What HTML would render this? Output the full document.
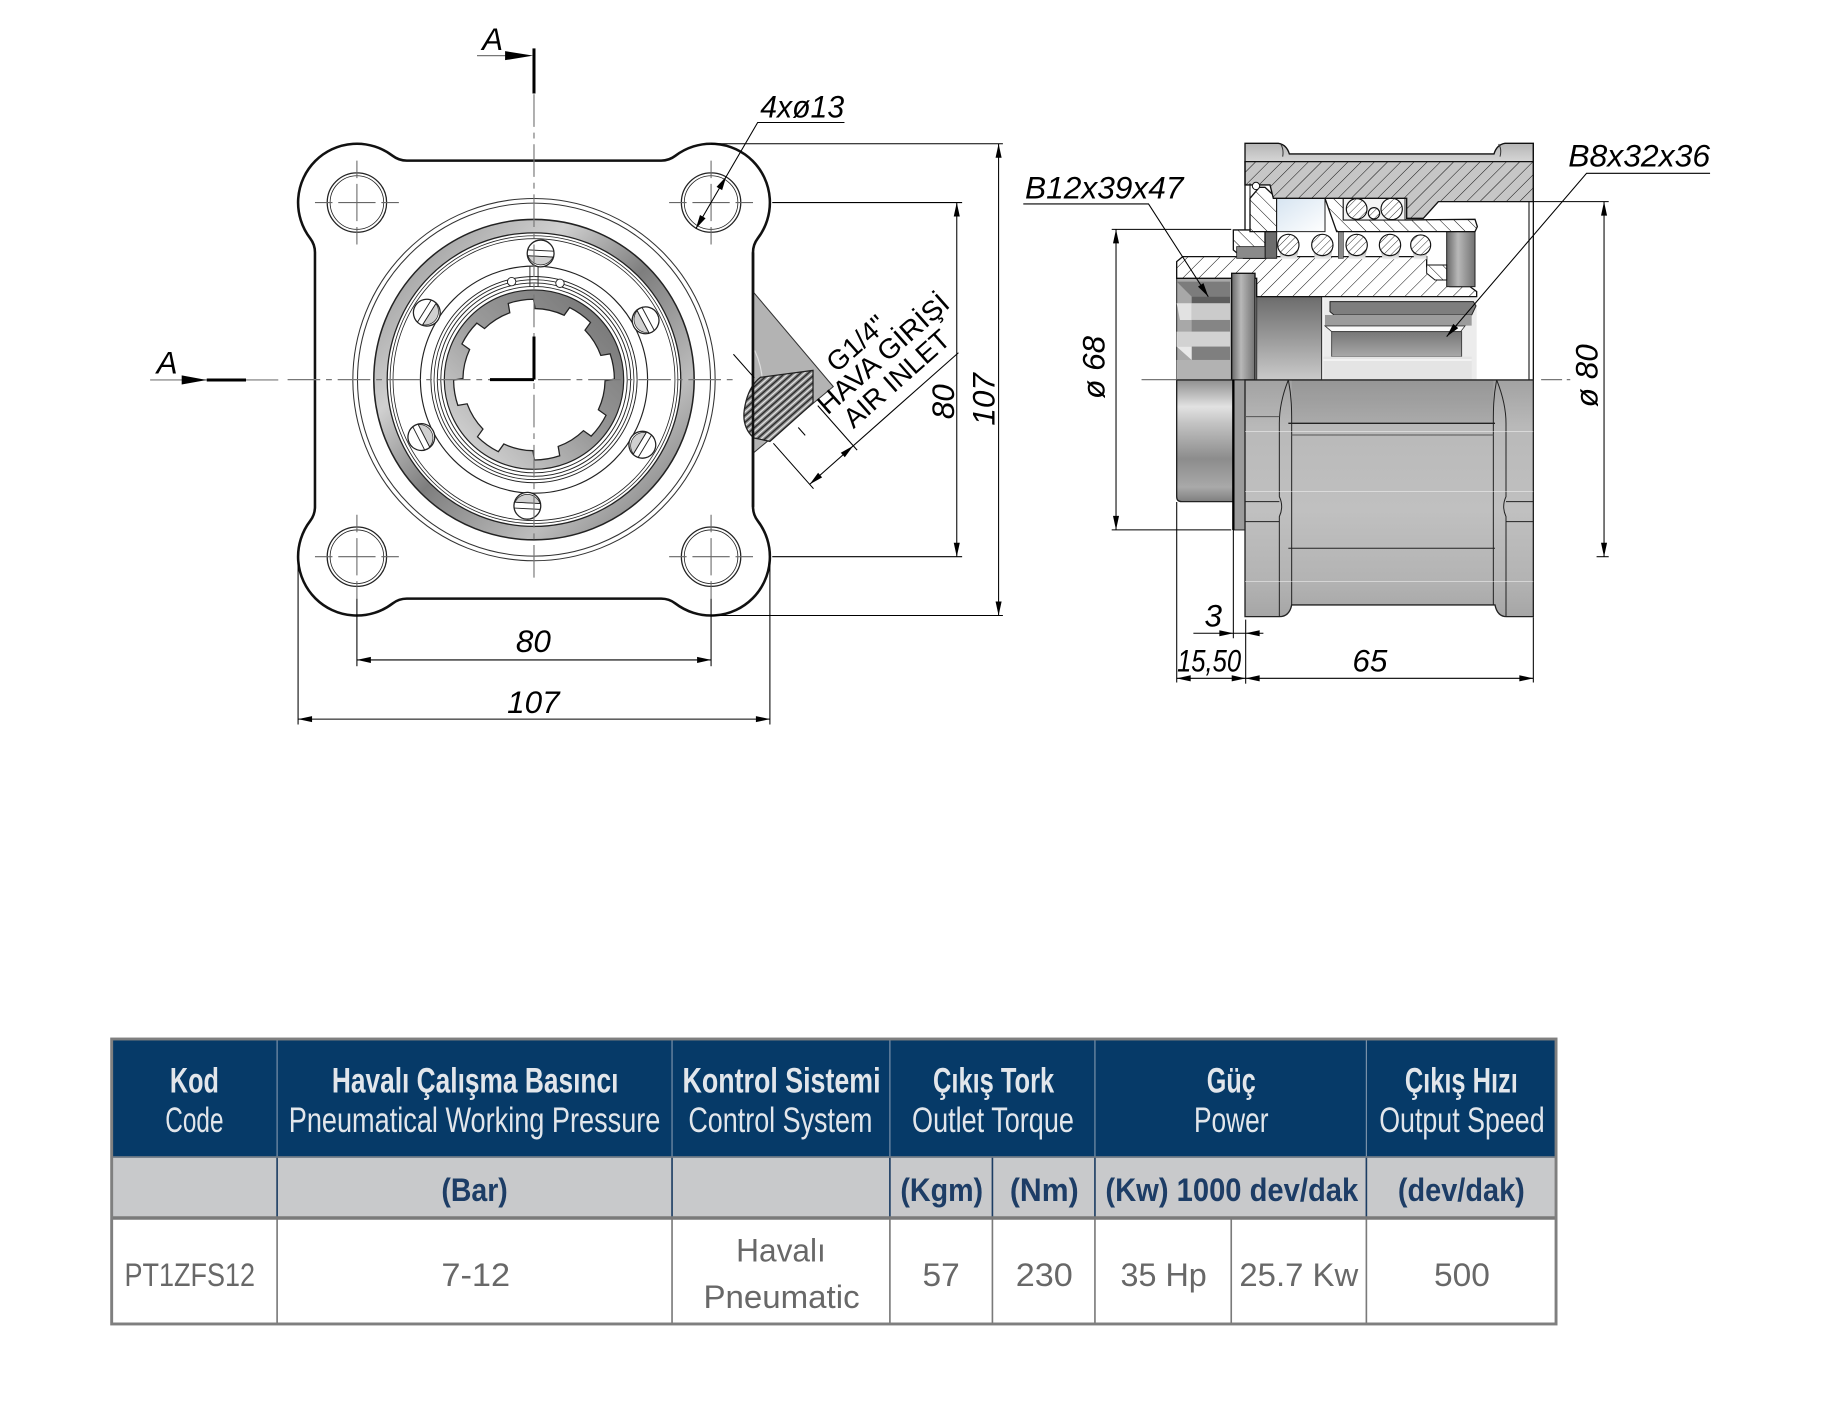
<!DOCTYPE html>
<html><head><meta charset="utf-8"><style>
html,body{margin:0;padding:0;background:#fff;}
svg{display:block;}
text{font-family:"Liberation Sans","DejaVu Sans",sans-serif;}
.d{font-style:italic;font-size:27px;fill:#000;}
.hd{font-weight:bold;font-size:30px;fill:#e2e6eb;}
.hr{font-size:30px;fill:#e2e6eb;}
.gr{font-weight:bold;font-size:28px;fill:#1d3d66;}
.dt{font-size:28px;fill:#686868;}
</style></head><body>
<svg width="1828" height="1403" viewBox="-0.86 -0.86 1569.1 1204.3" preserveAspectRatio="none" xmlns="http://www.w3.org/2000/svg">
<defs>
<pattern id="hs" width="28" height="28" patternUnits="userSpaceOnUse" patternTransform="rotate(45)"><rect width="28" height="28" fill="#c6c6c6"/><line x1="0" y1="0" x2="0" y2="28" stroke="#111" stroke-width="3"/></pattern>
<pattern id="hw" width="34" height="34" patternUnits="userSpaceOnUse" patternTransform="rotate(45)"><rect width="34" height="34" fill="#fff"/><line x1="0" y1="0" x2="0" y2="34" stroke="#111" stroke-width="3"/></pattern>
<pattern id="hb" width="30" height="30" patternUnits="userSpaceOnUse" patternTransform="rotate(-45)"><rect width="30" height="30" fill="#fff"/><line x1="0" y1="0" x2="0" y2="30" stroke="#111" stroke-width="3"/></pattern>
<pattern id="hf" width="16" height="16" patternUnits="userSpaceOnUse" patternTransform="rotate(45)"><rect width="16" height="16" fill="#fff"/><line x1="0" y1="0" x2="0" y2="16" stroke="#111" stroke-width="2.5"/></pattern>
<pattern id="kn" width="4.4" height="4.4" patternUnits="userSpaceOnUse" patternTransform="rotate(-41.5)"><rect width="4.4" height="4.4" fill="#8e8e8e"/><line x1="0" y1="1" x2="4.4" y2="1" stroke="#f0f0f0" stroke-width="0.9"/><line x1="0" y1="3.2" x2="4.4" y2="3.2" stroke="#222" stroke-width="1.1"/></pattern>
<linearGradient id="gRing" x1="0" y1="0" x2="1" y2="1"><stop offset="0" stop-color="#8e8e8e"/><stop offset=".3" stop-color="#d0d0d0"/><stop offset=".5" stop-color="#7e7e7e"/><stop offset=".75" stop-color="#bcbcbc"/><stop offset="1" stop-color="#707070"/></linearGradient>
<linearGradient id="gHubF" x1="1" y1="0" x2="0" y2="1"><stop offset="0" stop-color="#6f6f6f"/><stop offset=".5" stop-color="#9a9a9a"/><stop offset="1" stop-color="#e2e2e2"/></linearGradient>
<linearGradient id="gHub" x1="0" y1="0" x2="0" y2="1"><stop offset="0" stop-color="#8f8f8f"/><stop offset=".22" stop-color="#e2e2e2"/><stop offset=".35" stop-color="#c4c4c4"/><stop offset=".65" stop-color="#8c8c8c"/><stop offset=".88" stop-color="#a9a9a9"/><stop offset="1" stop-color="#7f7f7f"/></linearGradient>
<linearGradient id="gBody" x1="0" y1="0" x2="0" y2="1"><stop offset="0" stop-color="#a2a2a2"/><stop offset=".2" stop-color="#b9b9b9"/><stop offset=".55" stop-color="#c0c0c0"/><stop offset=".85" stop-color="#b3b3b3"/><stop offset="1" stop-color="#a6a6a6"/></linearGradient>
<linearGradient id="gPlate" x1="0" y1="0" x2="1" y2="0"><stop offset="0" stop-color="#686868"/><stop offset=".4" stop-color="#b8b8b8"/><stop offset="1" stop-color="#727272"/></linearGradient>
<linearGradient id="gBlock" x1="0" y1="0" x2="0" y2="1"><stop offset="0" stop-color="#6c6c6c"/><stop offset=".5" stop-color="#9a9a9a"/><stop offset="1" stop-color="#cacaca"/></linearGradient>
<linearGradient id="gBar" x1="0" y1="0" x2="0" y2="1"><stop offset="0" stop-color="#777"/><stop offset="1" stop-color="#a8a8a8"/></linearGradient>
<linearGradient id="gTail" x1="0" y1="0" x2="0" y2="1"><stop offset="0" stop-color="#8e8e8e"/><stop offset="1" stop-color="#f2f2f2"/></linearGradient>
<linearGradient id="gCav" x1="0" y1="0" x2="1" y2="1"><stop offset="0" stop-color="#d6e4f1"/><stop offset="1" stop-color="#ffffff"/></linearGradient>
<linearGradient id="gTop" x1="0" y1="0" x2="0" y2="1"><stop offset="0" stop-color="#b5b5b5"/><stop offset="1" stop-color="#d6d6d6"/></linearGradient>
</defs>

<!-- ================= FRONT VIEW ================= -->
<path d="M348.33,137 L566.67,137 A20,20 0 0 0 578.82,132.89 A50.5,50.5 0 0 1 649.61,203.68 A20,20 0 0 0 645.5,215.83 L645.5,434.17 A20,20 0 0 0 649.61,446.32 A50.5,50.5 0 0 1 578.82,517.11 A20,20 0 0 0 566.67,513 L348.33,513 A20,20 0 0 0 336.18,517.11 A50.5,50.5 0 0 1 265.39,446.32 A20,20 0 0 0 269.5,434.17 L269.5,215.83 A20,20 0 0 0 265.39,203.68 A50.5,50.5 0 0 1 336.18,132.89 A20,20 0 0 0 348.33,137 Z" fill="#fff" stroke="#111" stroke-width="2.2"/>

<!-- wedge + fitting -->
<polygon points="645.5,249.5 714.4,331 645.5,388.2" fill="#b3b3b3" stroke="#333" stroke-width="0.9"/>
<path d="M647,300 Q657,322 652,345" fill="none" stroke="#dedede" stroke-width="1"/>
<path d="M652,323 L697,317 L697,345 L660,378 L646,375 Q636,366 638,351 Q641,331 652,323 Z" fill="url(#kn)" stroke="#222" stroke-width="1.1"/>
<line x1="645.5" y1="215.8" x2="645.5" y2="434.2" stroke="#111" stroke-width="2.2"/>

<!-- concentric circles -->
<g fill="none" stroke="#333">
<circle cx="457.5" cy="325" r="155.5" stroke-width="0.9"/>
<circle cx="457.5" cy="325" r="151.5" stroke-width="0.9"/>
</g>
<circle cx="457.5" cy="325" r="131.8" fill="none" stroke="url(#gRing)" stroke-width="11.5"/>
<g fill="none" stroke="#222">
<circle cx="457.5" cy="325" r="137.5" stroke-width="1.3"/>
<circle cx="457.5" cy="325" r="126" stroke-width="1.1"/>
<circle cx="457.5" cy="325" r="123.5" stroke-width="0.7"/>
<circle cx="457.5" cy="325" r="121" stroke-width="0.7"/>
<circle cx="457.5" cy="325" r="97.5" stroke-width="1"/>
<circle cx="457.5" cy="325" r="88.5" stroke-width="0.8"/>
<circle cx="457.5" cy="325" r="85.8" stroke-width="0.7"/>
<circle cx="457.5" cy="325" r="83" stroke-width="0.8"/>
<circle cx="457.5" cy="325" r="80" stroke-width="0.8"/>
</g>
<circle cx="457.5" cy="325" r="77" fill="url(#gHubF)" stroke="#222" stroke-width="1"/>
<path transform="rotate(10 457.5 325)" d="M516.39,340.90 L523.72,344.40 A69,69 0 0 1 514.25,364.25 L506.92,360.76 A61,61 0 0 1 487.90,377.89 L490.61,385.54 A69,69 0 0 1 469.87,392.88 L467.16,385.23 A61,61 0 0 1 441.60,383.89 L438.10,391.22 A69,69 0 0 1 418.25,381.75 L421.74,374.42 A61,61 0 0 1 404.61,355.40 L396.96,358.11 A69,69 0 0 1 389.62,337.37 L397.27,334.66 A61,61 0 0 1 398.61,309.10 L391.28,305.60 A69,69 0 0 1 400.75,285.75 L408.08,289.24 A61,61 0 0 1 427.10,272.11 L424.39,264.46 A69,69 0 0 1 445.13,257.12 L447.84,264.77 A61,61 0 0 1 473.40,266.11 L476.90,258.78 A69,69 0 0 1 496.75,268.25 L493.26,275.58 A61,61 0 0 1 510.39,294.60 L518.04,291.89 A69,69 0 0 1 525.38,312.63 L517.73,315.34 A61,61 0 0 1 516.39,340.90 Z" fill="#fff" stroke="#222" stroke-width="1.1"/>
<!-- plate details -->
<circle cx="438.3" cy="240.9" r="3.6" fill="#fff" stroke="#222" stroke-width="0.8"/>
<circle cx="479.8" cy="242.3" r="3.6" fill="#fff" stroke="#222" stroke-width="0.8"/>
<path d="M454,228 V245 M461,228 V245" stroke="#222" stroke-width="0.8"/>

<!-- screws -->
<g stroke="#222">
<g transform="translate(463.2,216.7) rotate(3)"><circle r="11.5" fill="#fff" stroke-width="1.1"/><path d="M-10.7,2.5 H10.7 A11.5,11.5 0 0 1 -10.7,2.5Z" fill="#d0d0d0" stroke-width="0.6"/><path d="M-11,-2.5 H11 M-11,2.5 H11" stroke-width="0.8"/></g>
<g transform="translate(451.8,433.3) rotate(183)"><circle r="11.5" fill="#fff" stroke-width="1.1"/><path d="M-10.7,2.5 H10.7 A11.5,11.5 0 0 1 -10.7,2.5Z" fill="#d0d0d0" stroke-width="0.6"/><path d="M-11,-2.5 H11 M-11,2.5 H11" stroke-width="0.8"/></g>
<g transform="translate(365.5,267.5) rotate(-58)"><circle r="11.5" fill="#fff" stroke-width="1.1"/><path d="M-10.7,2.5 H10.7 A11.5,11.5 0 0 1 -10.7,2.5Z" fill="#d0d0d0" stroke-width="0.6"/><path d="M-11,-2.5 H11 M-11,2.5 H11" stroke-width="0.8"/></g>
<g transform="translate(553.3,274.1) rotate(62)"><circle r="11.5" fill="#fff" stroke-width="1.1"/><path d="M-10.7,2.5 H10.7 A11.5,11.5 0 0 1 -10.7,2.5Z" fill="#d0d0d0" stroke-width="0.6"/><path d="M-11,-2.5 H11 M-11,2.5 H11" stroke-width="0.8"/></g>
<g transform="translate(360.8,374.3) rotate(243)"><circle r="11.5" fill="#fff" stroke-width="1.1"/><path d="M-10.7,2.5 H10.7 A11.5,11.5 0 0 1 -10.7,2.5Z" fill="#d0d0d0" stroke-width="0.6"/><path d="M-11,-2.5 H11 M-11,2.5 H11" stroke-width="0.8"/></g>
<g transform="translate(550.5,380.9) rotate(121)"><circle r="11.5" fill="#fff" stroke-width="1.1"/><path d="M-10.7,2.5 H10.7 A11.5,11.5 0 0 1 -10.7,2.5Z" fill="#d0d0d0" stroke-width="0.6"/><path d="M-11,-2.5 H11 M-11,2.5 H11" stroke-width="0.8"/></g>
</g>

<!-- bolt holes -->
<g fill="none" stroke="#222">
<circle cx="305.5" cy="173" r="25.5" stroke-width="1.1"/><circle cx="305.5" cy="173" r="23" stroke-width="0.7"/>
<circle cx="609.5" cy="173" r="25.5" stroke-width="1.1"/><circle cx="609.5" cy="173" r="23" stroke-width="0.7"/>
<circle cx="305.5" cy="477" r="25.5" stroke-width="1.1"/><circle cx="305.5" cy="477" r="23" stroke-width="0.7"/>
<circle cx="609.5" cy="477" r="25.5" stroke-width="1.1"/><circle cx="609.5" cy="477" r="23" stroke-width="0.7"/>
</g>
<g stroke="#666" stroke-width="0.9" stroke-dasharray="15 5 32 5 15">
<line x1="269.5" y1="173" x2="341.5" y2="173"/><line x1="305.5" y1="137" x2="305.5" y2="209"/>
<line x1="573.5" y1="173" x2="645.5" y2="173"/><line x1="609.5" y1="137" x2="609.5" y2="209"/>
<line x1="269.5" y1="477" x2="341.5" y2="477"/><line x1="305.5" y1="441" x2="305.5" y2="513"/>
<line x1="573.5" y1="477" x2="645.5" y2="477"/><line x1="609.5" y1="441" x2="609.5" y2="513"/>
</g>

<!-- centerlines & section marks -->
<g stroke="#777" stroke-width="1" fill="none">
<line x1="128" y1="325.3" x2="238" y2="325.3"/>
<line x1="246" y1="325" x2="628" y2="325" stroke-dasharray="28 5 5 5"/>
<line x1="457.5" y1="80" x2="457.5" y2="500" stroke-dasharray="28 5 5 5"/>
<line x1="408.6" y1="46.9" x2="433" y2="46.9"/>
</g>
<g stroke="#000" stroke-width="2.6">
<line x1="457.5" y1="40.7" x2="457.5" y2="79.4"/>
<line x1="176.6" y1="325.3" x2="210.3" y2="325.3"/>
<line x1="457.5" y1="288" x2="457.5" y2="325"/>
<line x1="419.7" y1="325" x2="457.5" y2="325"/>
</g>
<polygon points="432.7,43 456.8,46.9 432.7,50.8" fill="#000"/>
<polygon points="155.1,321.4 176.6,325.3 155.1,329.2" fill="#000"/>
<text class="d" x="413" y="42" font-size="26">A</text>
<text class="d" x="133.6" y="319.6" font-size="26">A</text>

<!-- front dims -->
<g stroke="#000" stroke-width="0.9" fill="none">
<line x1="305.5" y1="513" x2="305.5" y2="571"/><line x1="609.5" y1="513" x2="609.5" y2="571"/>
<line x1="305.5" y1="565.6" x2="609.5" y2="565.6"/>
<line x1="255" y1="482" x2="255" y2="621"/><line x1="660" y1="482" x2="660" y2="621"/>
<line x1="255" y1="616.4" x2="660" y2="616.4"/>
<line x1="662" y1="173" x2="825" y2="173"/><line x1="662" y1="477" x2="825" y2="477"/>
<line x1="820.4" y1="173" x2="820.4" y2="477"/>
<line x1="609.5" y1="122.5" x2="860" y2="122.5"/><line x1="609.5" y1="527.5" x2="860" y2="527.5"/>
<line x1="856.3" y1="122.5" x2="856.3" y2="527.5"/>
<polyline points="596.4,195.5 649.5,104.3 724,104.3"/>
</g>
<g fill="#000">
<polygon points="305.5,565.6 317.5,563 317.5,568.2"/><polygon points="609.5,565.6 597.5,563 597.5,568.2"/>
<polygon points="255,616.4 267,613.8 267,619"/><polygon points="660,616.4 648,613.8 648,619"/>
<polygon points="820.4,173 817.8,185 823,185"/><polygon points="820.4,477 817.8,465 823,465"/>
<polygon points="856.3,122.5 853.7,134.5 858.9,134.5"/><polygon points="856.3,527.5 853.7,515.5 858.9,515.5"/>
<polygon points="596.4,195.5 604.8,186.5 600,183.7"/><polygon points="622.6,150.5 619,162.3 614.2,159.5"/>
</g>
<text class="d" x="457" y="559" text-anchor="middle">80</text>
<text class="d" x="457" y="611" text-anchor="middle">107</text>
<text class="d" transform="translate(818,344) rotate(-90)" text-anchor="middle">80</text>
<text class="d" transform="translate(853,342) rotate(-90)" text-anchor="middle">107</text>
<text class="d" x="651.7" y="100" textLength="72" lengthAdjust="spacingAndGlyphs">4xø13</text>

<!-- air inlet annotation -->
<g transform="translate(717.3,319.6) rotate(-41.5)">
<text x="0" y="0" font-size="23.6" fill="#000">G1/4"</text>
<text x="-30" y="22" font-size="23.6" fill="#000" textLength="142" lengthAdjust="spacingAndGlyphs">HAVA GİRİŞİ</text>
<text x="-21" y="45.5" font-size="23.6" fill="#000" textLength="113" lengthAdjust="spacingAndGlyphs">AIR INLET</text>
<g stroke="#000" stroke-width="0.9">
<line x1="-80.5" y1="56" x2="90" y2="56"/>
<line x1="-80.5" y1="9" x2="-80.5" y2="61"/>
<line x1="-30.5" y1="10" x2="-30.5" y2="61"/>
<line x1="-55.5" y1="-71" x2="-55.5" y2="-44"/>
<line x1="-55.5" y1="13" x2="-55.5" y2="22"/>
</g>
<polygon points="-80.5,56 -68.5,53.4 -68.5,58.6" fill="#000"/>
<polygon points="-30.5,56 -42.5,53.4 -42.5,58.6" fill="#000"/>
</g>

<!-- ================= SECTION VIEW (upper) ================= -->
<g transform="translate(866.1,110.7) scale(0.28612)">
<rect x="1400" y="215" width="157" height="535" fill="#fff"/>
<rect x="940" y="500" width="460" height="250" fill="#ececec"/>
<path d="M960,515 H1390 L1398,528 L1385,555 H972 L960,545 Z" fill="#7e7e7e" stroke="#222" stroke-width="3"/>
<rect x="945" y="555" width="440" height="32" fill="#9c9c9c"/>
<path d="M945,588 H1365 L1352,605 H965 Z" fill="#fafafa" stroke="#333" stroke-width="2.5"/>
<rect x="965" y="605" width="390" height="75" fill="url(#gBar)" stroke="#333" stroke-width="2.5"/>
<rect x="940" y="680" width="445" height="70" fill="#e4e4e4"/>
<line x1="940" y1="690" x2="1385" y2="690" stroke="#fff" stroke-width="3"/>
<rect x="740" y="500" width="195" height="250" fill="url(#gBlock)" stroke="#222" stroke-width="3"/>
<rect x="500" y="440" width="165" height="310" fill="#a8a8a8" stroke="#222" stroke-width="3"/>
<path d="M500,455 L545,500 H660 V455 Z" fill="#7c7c7c"/>
<rect x="545" y="500" width="115" height="20" fill="#5e5e5e"/>
<path d="M500,520 H545 V570 H510 Z" fill="#e2e2e2"/>
<rect x="545" y="520" width="115" height="50" fill="#cbcbcb"/>
<rect x="545" y="570" width="115" height="35" fill="#858585"/>
<rect x="500" y="605" width="160" height="45" fill="#d2d2d2"/>
<rect x="545" y="650" width="115" height="40" fill="#7f7f7f"/>
<path d="M500,650 H545 V690 Z" fill="#e8e8e8"/>
<rect x="500" y="690" width="160" height="60" fill="#b2b2b2"/>
<path d="M500,395 L518,380 H1250 V410 H1320 V470 H1380 L1400,485 V500 H740 V445 H500 Z" fill="url(#hw)" stroke="#111" stroke-width="4"/>
<rect x="665" y="430" width="70" height="320" fill="url(#gPlate)" stroke="#111" stroke-width="4"/>
<rect x="1310" y="305" width="85" height="165" fill="url(#gPlate)" stroke="#222" stroke-width="3"/>
<path d="M1250,405 H1310 V450 H1275 L1250,430 Z" fill="url(#hb)" stroke="#111" stroke-width="3"/>
<path d="M805,350 L813,388 H860 L867,350 Z" fill="url(#gTail)"/>
<path d="M907,350 L915,388 H962 L969,350 Z" fill="url(#gTail)"/>
<path d="M1010,350 L1018,388 H1065 L1072,350 Z" fill="url(#gTail)"/>
<path d="M1110,350 L1118,388 H1165 L1172,350 Z" fill="url(#gTail)"/>
<path d="M1205,350 L1213,388 H1250 L1250,350 Z" fill="url(#gTail)"/>
<rect x="765" y="305" width="35" height="80" fill="#6d6d6d" stroke="#222" stroke-width="3"/>
<rect x="985" y="305" width="15" height="80" fill="#8a8a8a" stroke="#333" stroke-width="2"/>
<g fill="url(#hf)" stroke="#111" stroke-width="3.5">
<circle cx="835" cy="345" r="32"/><circle cx="937" cy="345" r="32"/><circle cx="1040" cy="345" r="32"/><circle cx="1140" cy="345" r="32"/><circle cx="1232" cy="345" r="30"/>
</g>
<path d="M720,205 L748,172 H765 L800,205 V305 H720 Z" fill="url(#hb)" stroke="#111" stroke-width="4"/>
<path d="M670,300 H720 V305 H765 V385 H700 L670,360 Z" fill="url(#hb)" stroke="#111" stroke-width="4"/>
<rect x="680" y="350" width="85" height="35" fill="#8a8a8a" stroke="#222" stroke-width="2.5"/>
<rect x="800" y="205" width="145" height="100" fill="url(#gCav)" stroke="#222" stroke-width="3"/>
<path d="M945,205 H1000 V270 H1190 L1395,268 L1402,290 L1395,305 H980 Z" fill="url(#hb)" stroke="#111" stroke-width="4"/>
<rect x="1000" y="205" width="185" height="65" fill="#f4f4f4" stroke="#222" stroke-width="3"/>
<g fill="url(#hf)" stroke="#111" stroke-width="3.5">
<circle cx="1040" cy="237" r="31"/><circle cx="1092" cy="250" r="17"/><circle cx="1145" cy="237" r="32"/>
</g>
<path d="M705,95 V40 H805 Q830,44 838,72 H1452 Q1460,44 1485,40 H1570 V95 Z" fill="url(#gTop)" stroke="#111" stroke-width="4"/>
<path d="M812,42 Q822,58 818,80 M1466,42 Q1476,58 1470,80" fill="none" stroke="#333" stroke-width="3"/>
<path d="M705,95 H1570 V215 H1285 L1240,265 H1190 V205 H790 L780,165 H705 Z" fill="url(#hs)" stroke="#111" stroke-width="4"/>
<line x1="705" y1="95" x2="705" y2="300" stroke="#111" stroke-width="4"/>
<line x1="720" y1="160" x2="720" y2="300" stroke="#111" stroke-width="3"/>
<circle cx="738" cy="168" r="11" fill="#fff" stroke="#111" stroke-width="3"/>
<line x1="1557" y1="215" x2="1557" y2="750" stroke="#222" stroke-width="3.5"/>
<line x1="1570" y1="40" x2="1570" y2="750" stroke="#111" stroke-width="4"/>
<line x1="500" y1="750" x2="1570" y2="750" stroke="#333" stroke-width="2.5"/>
</g>

<!-- ================= SECTION VIEW (lower exterior) ================= -->
<g transform="translate(866.1,316.7) scale(0.28612)">
<path d="M500,30 H670 V395 H515 Q500,395 500,380 Z" fill="url(#gHub)" stroke="#222" stroke-width="4"/>
<rect x="670" y="30" width="35" height="450" fill="#9b9b9b" stroke="#222" stroke-width="3"/>
<line x1="670" y1="30" x2="670" y2="480" stroke="#000" stroke-width="7"/>
<path d="M705,30 H1570 V740 H1490 Q1462,740 1455,705 H845 Q838,740 808,740 H705 Z" fill="url(#gBody)" stroke="#222" stroke-width="4"/>
<rect x="845" y="30" width="605" height="130" fill="#000" opacity="0.07"/>
<g fill="none" stroke="#222" stroke-width="3">
<path d="M835,30 C815,80 808,120 808,160 L808,380 Q822,410 808,440 L808,740"/>
<path d="M835,30 C845,80 845,120 845,160 L845,705"/>
<path d="M1460,30 C1480,80 1488,120 1488,160 L1488,380 Q1474,410 1488,440 L1488,740"/>
<path d="M1460,30 C1450,80 1450,120 1450,160 L1450,705"/>
<line x1="835" y1="160" x2="1455" y2="160" stroke-width="4"/>
<line x1="845" y1="195" x2="1450" y2="195" stroke="#555"/>
<line x1="835" y1="535" x2="1455" y2="535"/>
<line x1="705" y1="140" x2="808" y2="140" stroke="#555"/>
<line x1="705" y1="395" x2="808" y2="395"/>
<line x1="705" y1="455" x2="808" y2="455"/>
<line x1="1488" y1="395" x2="1570" y2="395"/>
<line x1="1488" y1="455" x2="1570" y2="455"/>
</g>
<g stroke="#fff" stroke-width="2" opacity="0.6">
<line x1="705" y1="185" x2="1570" y2="185"/><line x1="705" y1="365" x2="1570" y2="365"/><line x1="705" y1="635" x2="1570" y2="635"/>
</g>
</g>

<!-- right view centerline -->
<g stroke="#777" stroke-width="1">
<line x1="979" y1="325" x2="1009" y2="325"/>
<line x1="1322" y1="325" x2="1347" y2="325" stroke-dasharray="18 4 3 4"/>
</g>

<!-- right view dims -->
<g stroke="#000" stroke-width="0.9" fill="none">
<line x1="953.4" y1="196" x2="1056" y2="196"/><line x1="953.4" y1="454" x2="1056" y2="454"/>
<line x1="957.1" y1="196" x2="957.1" y2="454"/>
<line x1="1315.3" y1="172.2" x2="1380" y2="172.2"/><line x1="1369.6" y1="477" x2="1380" y2="477"/>
<line x1="1376" y1="172.2" x2="1376" y2="477"/>
<line x1="1057.8" y1="454" x2="1057.8" y2="547"/>
<line x1="1068.4" y1="531" x2="1068.4" y2="586"/>
<line x1="1009.2" y1="430" x2="1009.2" y2="585"/>
<line x1="1315.3" y1="529" x2="1315.3" y2="585"/>
<line x1="1023.5" y1="542.7" x2="1083.6" y2="542.7"/>
<line x1="1009.2" y1="581.4" x2="1315.3" y2="581.4"/>
<polyline points="877.5,174.2 985,174.2 1036.3,253.8"/>
<polyline points="1467,147.9 1361,147.9 1240.9,288.1"/>
</g>
<g fill="#000">
<polygon points="957.1,196 954.5,208 959.7,208"/><polygon points="957.1,454 954.5,442 959.7,442"/>
<polygon points="1376,172.2 1373.4,184.2 1378.6,184.2"/><polygon points="1376,477 1373.4,465 1378.6,465"/>
<polygon points="1057.8,542.7 1045.8,540.1 1045.8,545.3"/><polygon points="1068.4,542.7 1080.4,540.1 1080.4,545.3"/>
<polygon points="1009.2,581.4 1021.2,578.8 1021.2,584"/><polygon points="1068.4,581.4 1056.4,578.8 1056.4,584"/>
<polygon points="1068.4,581.4 1080.4,578.8 1080.4,584"/><polygon points="1315.3,581.4 1303.3,578.8 1303.3,584"/>
<polygon points="1036.3,253.8 1032.15,242.18 1027.45,245.22"/>
<polygon points="1240.9,288.1 1250.83,280.82 1246.57,277.18"/>
</g>
<text class="d" x="879" y="169.4" textLength="136" lengthAdjust="spacingAndGlyphs">B12x39x47</text>
<text class="d" x="1345.3" y="142.2" textLength="121.7" lengthAdjust="spacingAndGlyphs">B8x32x36</text>
<text class="d" transform="translate(947,314.5) rotate(-90)" text-anchor="middle">ø 68</text>
<text class="d" transform="translate(1370.5,321.7) rotate(-90)" text-anchor="middle">ø 80</text>
<text class="d" x="1040.6" y="537" text-anchor="middle">3</text>
<text class="d" x="1009.5" y="575.6" textLength="55" lengthAdjust="spacingAndGlyphs">15,50</text>
<text class="d" x="1175" y="575.6" text-anchor="middle">65</text>

<!-- ================= TABLE ================= -->
<rect x="95" y="891" width="1239.8" height="101.3" fill="#063a68"/>
<rect x="95" y="992.3" width="1239.8" height="52.3" fill="#c8c9cb"/>
<rect x="95" y="1044.6" width="1239.8" height="91" fill="#fff"/>
<g stroke="#7d93ab" stroke-width="1">
<line x1="237" y1="891" x2="237" y2="992.3"/><line x1="576" y1="891" x2="576" y2="992.3"/><line x1="763" y1="891" x2="763" y2="992.3"/><line x1="939" y1="891" x2="939" y2="992.3"/><line x1="1172" y1="891" x2="1172" y2="992.3"/>
</g>
<g stroke="#1c3d63" stroke-width="1.4">
<line x1="237" y1="992.3" x2="237" y2="1044.6"/><line x1="576" y1="992.3" x2="576" y2="1044.6"/><line x1="763" y1="992.3" x2="763" y2="1044.6"/><line x1="851" y1="992.3" x2="851" y2="1044.6"/><line x1="939" y1="992.3" x2="939" y2="1044.6"/><line x1="1172" y1="992.3" x2="1172" y2="1044.6"/>
</g>
<g stroke="#7a7a7a" stroke-width="1.4">
<line x1="237" y1="1044.6" x2="237" y2="1135.6"/><line x1="576" y1="1044.6" x2="576" y2="1135.6"/><line x1="763" y1="1044.6" x2="763" y2="1135.6"/><line x1="851" y1="1044.6" x2="851" y2="1135.6"/><line x1="939" y1="1044.6" x2="939" y2="1135.6"/><line x1="1056" y1="1044.6" x2="1056" y2="1135.6"/><line x1="1172" y1="1044.6" x2="1172" y2="1135.6"/>
</g>
<line x1="95" y1="992.3" x2="1334.8" y2="992.3" stroke="#6f7a86" stroke-width="1.5"/>
<line x1="95" y1="1044.6" x2="1334.8" y2="1044.6" stroke="#7a7a7a" stroke-width="3"/>
<rect x="95" y="891" width="1239.8" height="244.6" fill="none" stroke="#7f7f7f" stroke-width="2.5"/>

<text class="hd" x="166" y="937" text-anchor="middle" textLength="42" lengthAdjust="spacingAndGlyphs">Kod</text>
<text class="hr" x="166" y="971" text-anchor="middle" textLength="50" lengthAdjust="spacingAndGlyphs">Code</text>
<text class="hd" x="407" y="937" text-anchor="middle" textLength="246" lengthAdjust="spacingAndGlyphs">Havalı Çalışma Basıncı</text>
<text class="hr" x="406.5" y="971" text-anchor="middle" textLength="319" lengthAdjust="spacingAndGlyphs">Pneumatical Working  Pressure</text>
<text class="hd" x="670" y="937" text-anchor="middle" textLength="170" lengthAdjust="spacingAndGlyphs">Kontrol Sistemi</text>
<text class="hr" x="669" y="971" text-anchor="middle" textLength="158" lengthAdjust="spacingAndGlyphs">Control System</text>
<text class="hd" x="852" y="937" text-anchor="middle" textLength="104" lengthAdjust="spacingAndGlyphs">Çıkış Tork</text>
<text class="hr" x="851.5" y="971" text-anchor="middle" textLength="139" lengthAdjust="spacingAndGlyphs">Outlet Torque</text>
<text class="hd" x="1056" y="937" text-anchor="middle" textLength="42" lengthAdjust="spacingAndGlyphs">Güç</text>
<text class="hr" x="1056" y="971" text-anchor="middle" textLength="64" lengthAdjust="spacingAndGlyphs">Power</text>
<text class="hd" x="1253.5" y="937" text-anchor="middle" textLength="97" lengthAdjust="spacingAndGlyphs">Çıkış Hızı</text>
<text class="hr" x="1254" y="971" text-anchor="middle" textLength="142" lengthAdjust="spacingAndGlyphs">Output Speed</text>

<text class="gr" x="406.5" y="1030" text-anchor="middle" textLength="57" lengthAdjust="spacingAndGlyphs">(Bar)</text>
<text class="gr" x="807.5" y="1030" text-anchor="middle" textLength="71" lengthAdjust="spacingAndGlyphs">(Kgm)</text>
<text class="gr" x="895.5" y="1030" text-anchor="middle" textLength="59" lengthAdjust="spacingAndGlyphs">(Nm)</text>
<text class="gr" x="1056.5" y="1030" text-anchor="middle" textLength="217" lengthAdjust="spacingAndGlyphs">(Kw) 1000 dev/dak</text>
<text class="gr" x="1253.5" y="1030" text-anchor="middle" textLength="109" lengthAdjust="spacingAndGlyphs">(dev/dak)</text>

<text class="dt" x="162" y="1103" text-anchor="middle" textLength="112" lengthAdjust="spacingAndGlyphs">PT1ZFS12</text>
<text class="dt" x="407.5" y="1103" text-anchor="middle" textLength="59" lengthAdjust="spacingAndGlyphs">7-12</text>
<text class="dt" x="669.5" y="1082" text-anchor="middle" textLength="77" lengthAdjust="spacingAndGlyphs">Havalı</text>
<text class="dt" x="670" y="1122" text-anchor="middle" textLength="134" lengthAdjust="spacingAndGlyphs">Pneumatic</text>
<text class="dt" x="807" y="1103" text-anchor="middle" textLength="32" lengthAdjust="spacingAndGlyphs">57</text>
<text class="dt" x="895.5" y="1103" text-anchor="middle" textLength="49" lengthAdjust="spacingAndGlyphs">230</text>
<text class="dt" x="998" y="1103" text-anchor="middle" textLength="74" lengthAdjust="spacingAndGlyphs">35 Hp</text>
<text class="dt" x="1114" y="1103" text-anchor="middle" textLength="102" lengthAdjust="spacingAndGlyphs">25.7 Kw</text>
<text class="dt" x="1254" y="1103" text-anchor="middle" textLength="48" lengthAdjust="spacingAndGlyphs">500</text>
</svg>
</body></html>
